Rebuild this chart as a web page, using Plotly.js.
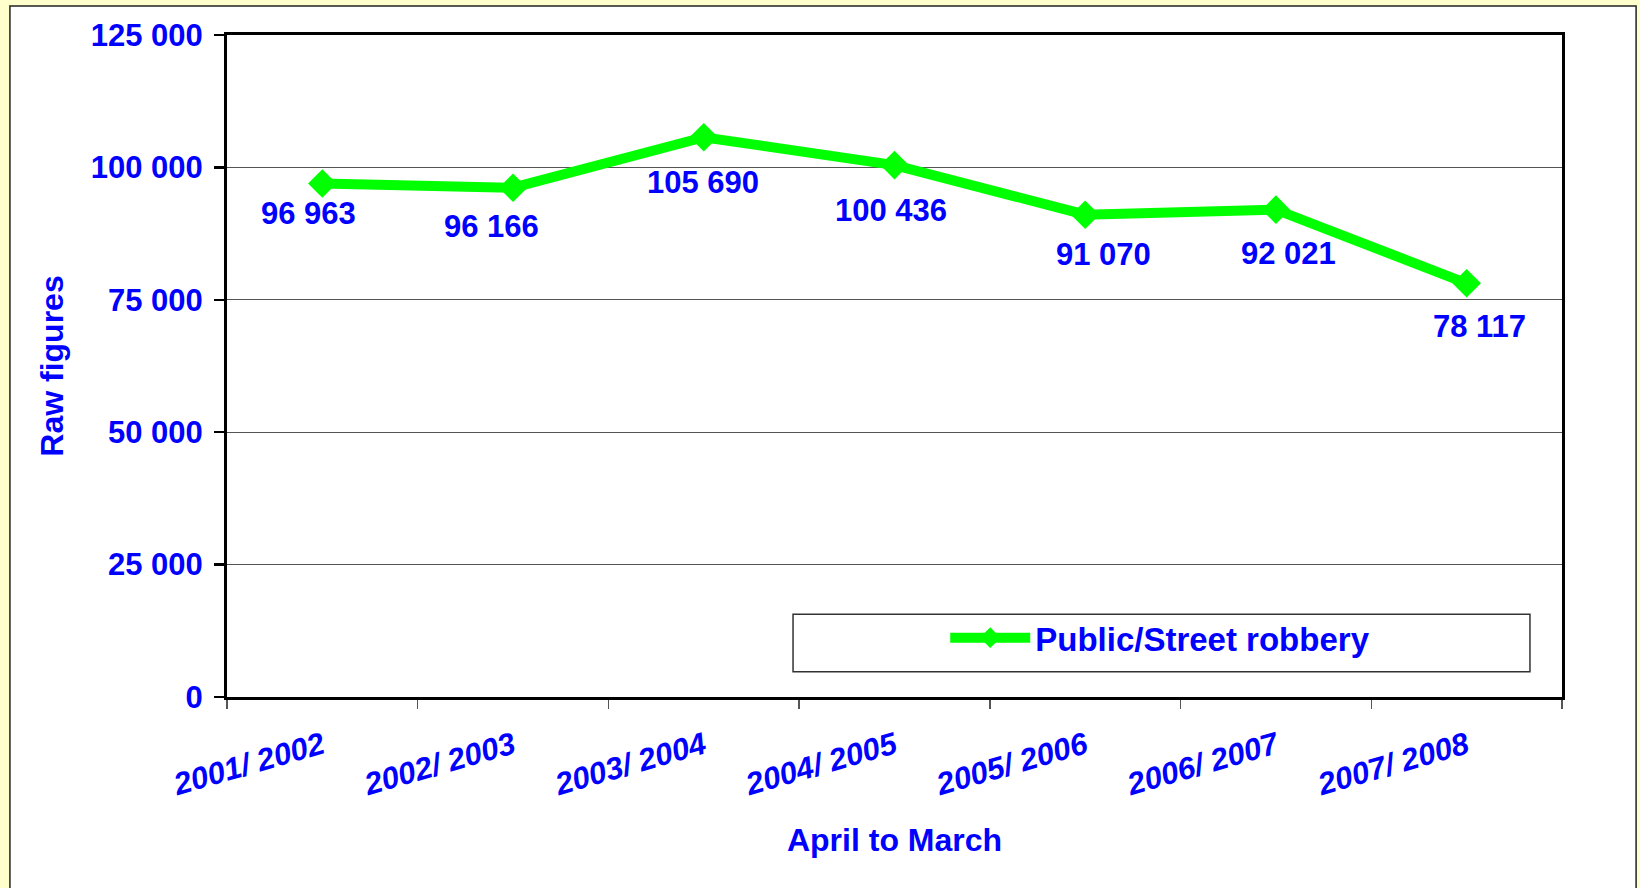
<!DOCTYPE html>
<html>
<head>
<meta charset="utf-8">
<script src="https://cdn.plot.ly/plotly-3.0.1.min.js"></script>
<style>html,body{margin:0;padding:0;background:#FFFFCC;}#chart{width:1640px;height:888px;}</style>
</head>
<body>
<div id="chart"></div>
<script>
const periods = ["2001/ 2002", "2002/ 2003", "2003/ 2004", "2004/ 2005", "2005/ 2006", "2006/ 2007", "2007/ 2008"];
const robbery = [96963, 96166, 105690, 100436, 91070, 92021, 78117];
const seriesName = "Public/Street robbery";
const yTicks = [0, 25000, 50000, 75000, 100000, 125000];

// label nudges (pixels), styling only
const labelDx = [-14, -22, -1, -4, 18, 13, 13];
const labelDy = [-30, -39, -45, -45, -40, -44, -43];

const FONT = "Liberation Sans, Arial, sans-serif";
const BLUE = "#0000FF";

const fmt = v => String(v).replace(/\B(?=(\d{3})+(?!\d))/g, " ");

const trace = {
  type: "scatter",
  mode: "lines+markers",
  x: periods,
  y: robbery,
  name: seriesName,
  line: {color: "#00FF00", width: 10},
  marker: {symbol: "diamond", size: 22, color: "#00FF00"},
  showlegend: true
};

const annotations = periods.map((p, i) => ({
  x: p, y: robbery[i], xref: "x", yref: "y",
  text: fmt(robbery[i]), showarrow: false,
  xshift: labelDx[i], yshift: labelDy[i],
  font: {family: FONT, size: 31, color: BLUE, weight: "bold"}
}));

const layout = {
  width: 1640, height: 888,
  paper_bgcolor: "#FFFFCC",
  plot_bgcolor: "#FFFFFF",
  separators: ". ",
  margin: {l: 227, r: 78, t: 35, b: 191, autoexpand: false},
  font: {family: FONT, color: BLUE, size: 30},
  xaxis: {
    type: "category",
    range: [-0.5, 6.5],
    tickson: "boundaries",
    ticks: "outside", ticklen: 9, tickwidth: 1.5, tickcolor: "#555",
    tickangle: -16,
    ticklabelstandoff: 16,
    tickfont: {family: FONT, size: 31, color: BLUE, weight: "bold", style: "italic"},
    showline: true, linecolor: "#000", linewidth: 3, mirror: true,
    showgrid: false, zeroline: false,
    title: {text: "April to March", font: {family: FONT, size: 32, color: BLUE, weight: "bold"}, standoff: 28}
  },
  yaxis: {
    range: [0, 125000],
    tickvals: yTicks,
    tickformat: ",d",
    ticks: "outside", ticklen: 10, tickwidth: 2.5, tickcolor: "#000",
    ticklabelstandoff: 5,
    tickfont: {family: FONT, size: 31, color: BLUE, weight: "bold"},
    showline: true, linecolor: "#000", linewidth: 3, mirror: true,
    showgrid: true, gridcolor: "#555", gridwidth: 1,
    zeroline: false,
    title: {text: "Raw figures", font: {family: FONT, size: 32, color: BLUE, weight: "bold"}, standoff: 18}
  },
  shapes: [
    {type: "rect", xref: "paper", yref: "paper", layer: "below",
     x0: -0.1626, x1: 1.0555, y0: -0.35, y1: 1.0438,
     fillcolor: "#FFFFFF", line: {color: "#222", width: 1.5}},
    {type: "rect", xref: "paper", yref: "paper", layer: "above",
     x0: 0.424, x1: 0.976, y0: 0.038, y1: 0.125,
     fillcolor: "rgba(0,0,0,0)", line: {color: "#333", width: 1.5}}
  ],
  legend: {
    x: 0.538, y: 0.0895, xanchor: "left", yanchor: "middle",
    bgcolor: "rgba(0,0,0,0)", borderwidth: 0,
    itemwidth: 80,
    font: {family: FONT, size: 33, color: BLUE, weight: "bold"}
  },
  annotations: annotations
};

Plotly.newPlot("chart", [trace], layout, {displayModeBar: false, staticPlot: true});
</script>
</body>
</html>
